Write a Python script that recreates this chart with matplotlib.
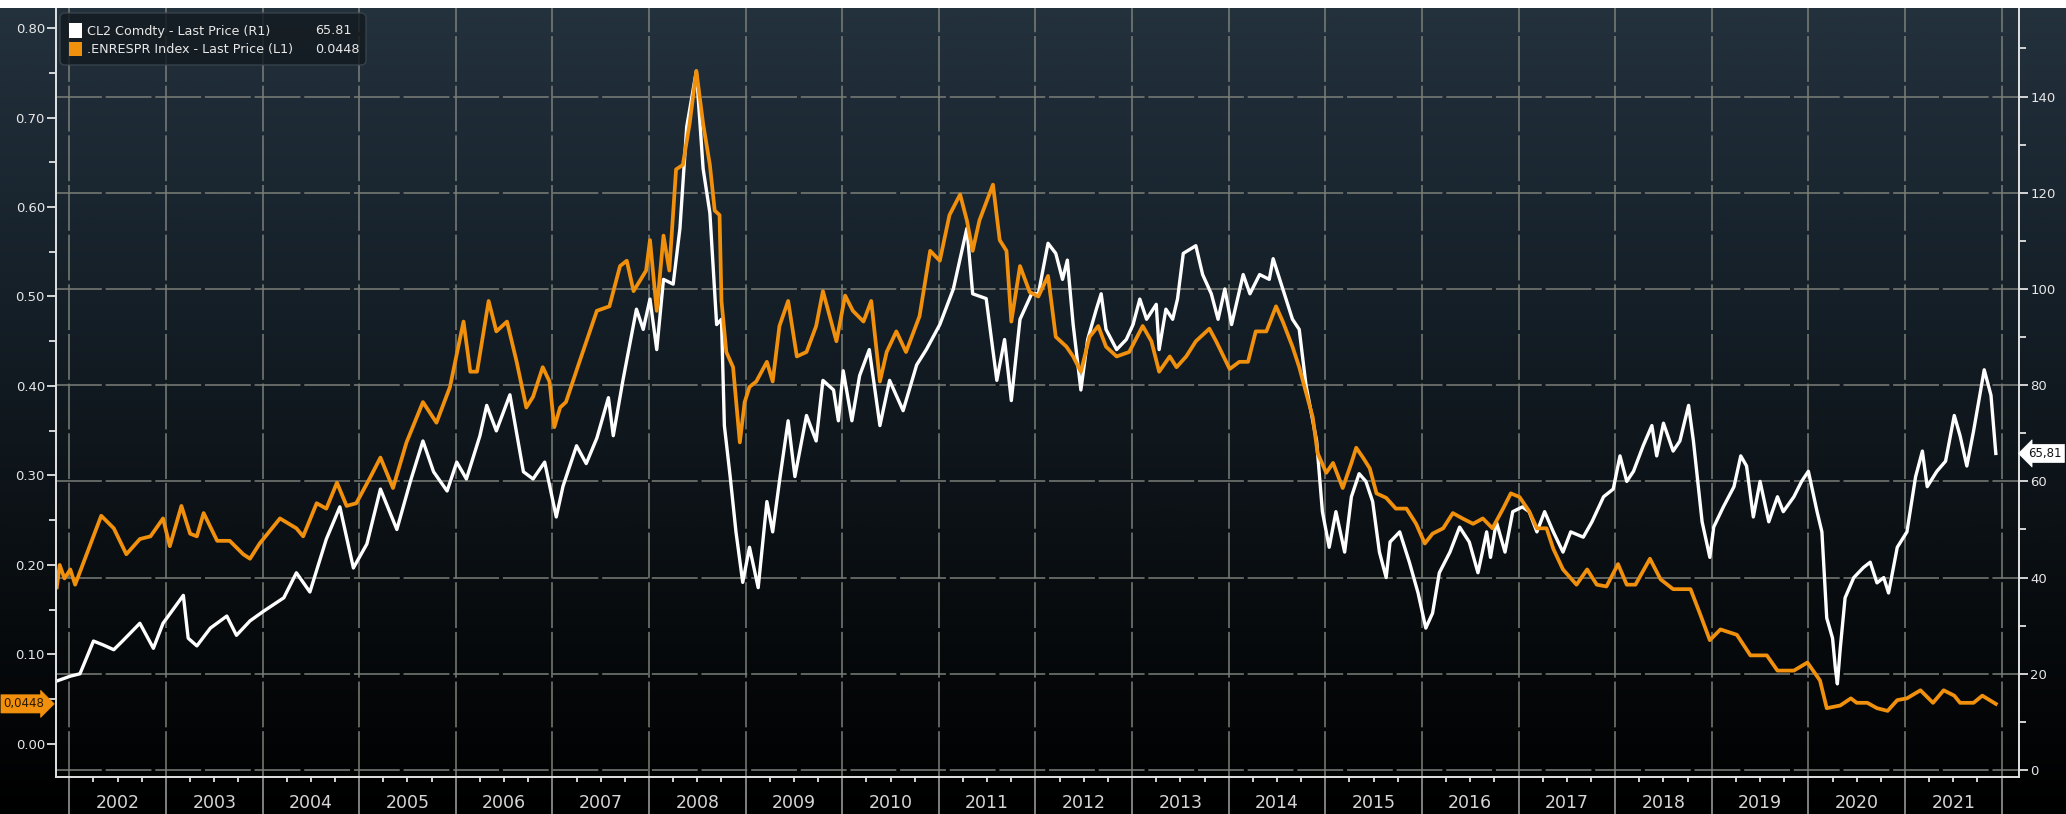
import numpy as np
import matplotlib
matplotlib.use("Agg")
import matplotlib.pyplot as plt
import matplotlib.transforms as mtransforms
from matplotlib.patches import Rectangle, FancyBboxPatch
from matplotlib.ticker import FixedLocator, FuncFormatter, NullFormatter
from matplotlib.colors import LinearSegmentedColormap
from matplotlib import font_manager as fm

# ---------------- data ----------------
cl2_t = [2001.87, 2002.01, 2002.11, 2002.25, 2002.35, 2002.46, 2002.56, 2002.73, 2002.87, 2002.97,
         2003.18, 2003.23, 2003.32, 2003.46, 2003.63, 2003.73, 2003.87, 2004.01, 2004.22, 2004.35,
         2004.49, 2004.66, 2004.80, 2004.94, 2005.08, 2005.22, 2005.39, 2005.53, 2005.66, 2005.77,
         2005.91, 2006.01, 2006.11, 2006.25, 2006.32, 2006.42, 2006.56, 2006.70, 2006.80, 2006.92,
         2007.04, 2007.11, 2007.25, 2007.35, 2007.46, 2007.58, 2007.63, 2007.73, 2007.87, 2007.94,
         2008.01, 2008.08, 2008.15, 2008.25, 2008.32, 2008.39, 2008.49, 2008.56, 2008.63, 2008.70,
         2008.75, 2008.78, 2008.84, 2008.90, 2008.97, 2009.04, 2009.13, 2009.22, 2009.28, 2009.35,
         2009.44, 2009.51, 2009.63, 2009.73, 2009.80, 2009.91, 2009.96, 2010.01, 2010.10, 2010.18,
         2010.28, 2010.39, 2010.49, 2010.63, 2010.77, 2010.87, 2011.01, 2011.15, 2011.29, 2011.35,
         2011.49, 2011.60, 2011.68, 2011.75, 2011.84, 2011.96, 2012.03, 2012.13, 2012.21, 2012.28,
         2012.33, 2012.39, 2012.47, 2012.54, 2012.63, 2012.68, 2012.73, 2012.84, 2012.94, 2013.01,
         2013.08, 2013.15, 2013.25, 2013.28, 2013.35, 2013.42, 2013.47, 2013.53, 2013.66, 2013.73,
         2013.82, 2013.89, 2013.96, 2014.03, 2014.15, 2014.22, 2014.32, 2014.42, 2014.46, 2014.56,
         2014.66, 2014.73, 2014.80, 2014.91, 2014.97, 2015.04, 2015.11, 2015.20, 2015.27, 2015.35,
         2015.42, 2015.49, 2015.56, 2015.63, 2015.67, 2015.77, 2015.87, 2015.96, 2016.04, 2016.11,
         2016.18, 2016.29, 2016.39, 2016.49, 2016.58, 2016.67, 2016.71, 2016.77, 2016.86, 2016.94,
         2017.04, 2017.11, 2017.19, 2017.27, 2017.36, 2017.46, 2017.54, 2017.67, 2017.76, 2017.88,
         2017.98, 2018.05, 2018.12, 2018.19, 2018.29, 2018.38, 2018.43, 2018.50, 2018.60, 2018.67,
         2018.76, 2018.81, 2018.90, 2018.98, 2019.02, 2019.12, 2019.23, 2019.30, 2019.36, 2019.43,
         2019.50, 2019.59, 2019.68, 2019.74, 2019.85, 2019.93, 2020.00, 2020.09, 2020.14, 2020.19,
         2020.25, 2020.28, 2020.30, 2020.33, 2020.38, 2020.47, 2020.57, 2020.64, 2020.71, 2020.78,
         2020.83, 2020.92, 2021.02, 2021.11, 2021.18, 2021.23, 2021.33, 2021.42, 2021.51, 2021.57,
         2021.64, 2021.71, 2021.82, 2021.89, 2021.94]
cl2_v = [18.5, 19.5, 20.0, 26.8, 26.0, 25.0, 27.0, 30.5, 25.3, 30.5,
         36.3, 27.4, 25.8, 29.5, 32.0, 28.0, 31.0, 33.0, 35.8, 41.0,
         37.0, 48.0, 54.7, 42.0, 47.0, 58.4, 50.0, 60.0, 68.4, 62.0,
         58.0, 64.0, 60.5, 69.5, 75.8, 70.5, 78.0, 62.0, 60.5, 64.0,
         52.6, 59.0, 67.4, 63.7, 69.0, 77.4, 69.5, 81.0, 95.8, 91.6,
         97.9, 87.4, 102.0, 101.0, 112.6, 133.7, 145.3, 125.0, 115.8, 92.6,
         93.7, 71.6, 61.0, 49.5, 39.0, 46.3, 37.9, 55.8, 49.5, 60.0,
         72.6, 61.0, 73.7, 68.4, 81.0, 79.0, 72.6, 83.0, 72.6, 82.0,
         87.4, 71.6, 81.0, 74.7, 84.2, 87.4, 92.6, 100.0, 112.6, 99.0,
         98.0, 81.0, 89.5, 76.8, 93.7, 99.0, 99.0, 109.5, 107.4, 102.0,
         106.0, 92.6, 79.0, 89.5, 95.8, 99.0, 91.6, 87.4, 89.5, 92.6,
         97.9, 93.7, 96.8, 87.4, 95.8, 93.7, 97.9, 107.4, 109.0, 103.0,
         99.0, 93.7, 100.0, 92.6, 103.0, 99.0, 103.0, 102.0, 106.3, 100.0,
         93.7, 91.6, 80.0, 68.4, 53.7, 46.3, 53.7, 45.3, 56.8, 61.6,
         60.0, 55.8, 45.3, 40.0, 47.4, 49.5, 43.2, 36.8, 29.5, 32.6,
         41.0, 45.3, 50.5, 47.4, 41.0, 49.5, 44.2, 51.6, 45.3, 53.7,
         54.7, 53.7, 49.5, 53.7, 49.5, 45.3, 49.5, 48.4, 51.6, 56.8,
         58.4, 65.3, 60.0, 62.1, 67.4, 71.6, 65.3, 72.1, 66.3, 68.4,
         75.8, 68.4, 51.6, 44.2, 50.5, 54.7, 58.9, 65.3, 63.2, 52.6,
         60.0, 51.6, 56.8, 53.7, 56.8, 60.0, 62.1, 53.7, 49.5, 31.6,
         27.4, 21.0, 17.9, 25.3, 35.8, 40.0, 42.1, 43.2, 38.9, 40.0,
         36.8, 46.3, 49.5, 61.0, 66.3, 58.9, 62.1, 64.2, 73.7, 69.5,
         63.2, 70.5, 83.2, 77.9, 65.81]

enr_t = [2001.87, 2001.90, 2001.95, 2002.01, 2002.06, 2002.20, 2002.33, 2002.46, 2002.59, 2002.73,
         2002.84, 2002.97, 2003.04, 2003.16, 2003.25, 2003.32, 2003.39, 2003.53, 2003.66, 2003.80,
         2003.87, 2003.97, 2004.18, 2004.35, 2004.42, 2004.56, 2004.66, 2004.77, 2004.87, 2004.97,
         2005.11, 2005.22, 2005.35, 2005.49, 2005.66, 2005.80, 2005.94, 2006.08, 2006.15, 2006.22,
         2006.34, 2006.42, 2006.53, 2006.63, 2006.73, 2006.80, 2006.90, 2006.97, 2007.02, 2007.08,
         2007.14, 2007.28, 2007.46, 2007.59, 2007.70, 2007.77, 2007.84, 2007.97, 2008.01, 2008.08,
         2008.15, 2008.21, 2008.28, 2008.35, 2008.42, 2008.49, 2008.56, 2008.63, 2008.68, 2008.73,
         2008.75, 2008.80, 2008.87, 2008.94, 2008.99, 2009.04, 2009.11, 2009.22, 2009.28, 2009.35,
         2009.44, 2009.53, 2009.63, 2009.73, 2009.80, 2009.87, 2009.94, 2010.03, 2010.11, 2010.22,
         2010.30, 2010.39, 2010.46, 2010.56, 2010.66, 2010.80, 2010.91, 2011.01, 2011.11, 2011.22,
         2011.29, 2011.35, 2011.42, 2011.56, 2011.63, 2011.70, 2011.75, 2011.84, 2011.94, 2012.03,
         2012.13, 2012.21, 2012.32, 2012.39, 2012.47, 2012.56, 2012.65, 2012.73, 2012.84, 2012.97,
         2013.11, 2013.20, 2013.28, 2013.39, 2013.46, 2013.56, 2013.66, 2013.80, 2013.87, 2014.01,
         2014.11, 2014.20, 2014.28, 2014.39, 2014.49, 2014.56, 2014.66, 2014.73, 2014.80, 2014.87,
         2014.92, 2015.01, 2015.08, 2015.18, 2015.27, 2015.32, 2015.39, 2015.46, 2015.53, 2015.63,
         2015.73, 2015.84, 2015.94, 2016.03, 2016.11, 2016.22, 2016.32, 2016.42, 2016.53, 2016.63,
         2016.73, 2016.84, 2016.92, 2017.01, 2017.11, 2017.19, 2017.29, 2017.36, 2017.46, 2017.60,
         2017.71, 2017.81, 2017.91, 2018.03, 2018.12, 2018.21, 2018.36, 2018.47, 2018.60, 2018.78,
         2018.88, 2018.98, 2019.09, 2019.26, 2019.40, 2019.57, 2019.68, 2019.85, 2019.99, 2020.12,
         2020.19, 2020.33, 2020.44, 2020.50, 2020.61, 2020.71, 2020.82, 2020.92, 2021.02, 2021.16,
         2021.29, 2021.40, 2021.51, 2021.57, 2021.71, 2021.80, 2021.94]
enr_v = [0.175, 0.200, 0.185, 0.195, 0.178, 0.218, 0.255, 0.241, 0.212, 0.229,
         0.232, 0.252, 0.221, 0.266, 0.235, 0.232, 0.258, 0.227, 0.227, 0.212,
         0.207, 0.224, 0.252, 0.241, 0.232, 0.269, 0.263, 0.292, 0.266, 0.269,
         0.297, 0.320, 0.286, 0.337, 0.382, 0.359, 0.399, 0.472, 0.416, 0.416,
         0.495, 0.461, 0.472, 0.427, 0.376, 0.388, 0.421, 0.405, 0.354, 0.376,
         0.382, 0.427, 0.484, 0.489, 0.534, 0.540, 0.506, 0.529, 0.563, 0.484,
         0.568, 0.529, 0.642, 0.647, 0.693, 0.752, 0.693, 0.647, 0.596, 0.591,
         0.495, 0.438, 0.421, 0.337, 0.382, 0.399, 0.405, 0.427, 0.405, 0.467,
         0.495, 0.433, 0.438, 0.467, 0.506, 0.478, 0.450, 0.501, 0.484, 0.472,
         0.495, 0.405, 0.438, 0.461, 0.438, 0.478, 0.551, 0.540, 0.591, 0.614,
         0.585, 0.551, 0.585, 0.625, 0.563, 0.551, 0.472, 0.534, 0.505, 0.500,
         0.523, 0.455, 0.444, 0.433, 0.416, 0.455, 0.467, 0.444, 0.433, 0.438,
         0.467, 0.450, 0.416, 0.433, 0.421, 0.433, 0.450, 0.464, 0.450, 0.419,
         0.427, 0.427, 0.461, 0.461, 0.489, 0.472, 0.444, 0.421, 0.393, 0.365,
         0.325, 0.303, 0.314, 0.286, 0.314, 0.331, 0.320, 0.308, 0.280, 0.275,
         0.263, 0.263, 0.246, 0.224, 0.235, 0.241, 0.258, 0.252, 0.246, 0.252,
         0.241, 0.263, 0.280, 0.276, 0.260, 0.241, 0.241, 0.218, 0.195, 0.178,
         0.195, 0.178, 0.176, 0.201, 0.178, 0.178, 0.207, 0.184, 0.173, 0.173,
         0.145, 0.116, 0.128, 0.122, 0.099, 0.099, 0.082, 0.082, 0.091, 0.071,
         0.040, 0.043, 0.051, 0.046, 0.046, 0.040, 0.037, 0.049, 0.051, 0.060,
         0.046, 0.060, 0.054, 0.046, 0.046, 0.054, 0.0448]

year_labels = [str(y) for y in range(2002, 2022)]
year_bounds = list(range(2002, 2023))
left_ticks = [0.0, 0.1, 0.2, 0.3, 0.4, 0.5, 0.6, 0.7, 0.8]
left_minor = [0.05, 0.15, 0.25, 0.35, 0.45, 0.55, 0.65, 0.75]
right_ticks = [0, 20, 40, 60, 80, 100, 120, 140]
right_minor = [10, 30, 50, 70, 90, 110, 130, 150]
legend_labels = ["CL2 Comdty - Last Price (R1)", ".ENRESPR Index - Last Price (L1)"]
legend_values = ["65.81", "0.0448"]
last_cl2_tag = "65,81"
last_enr_tag = "0,0448"

# ---------------- styling ----------------
W, H = 2066, 814
ORANGE = "#f0900c"
GRID = "#7b7f78"
AXC = "#e2e2e2"

names = {f.name for f in fm.fontManager.ttflist}
NARROW = "Liberation Sans Narrow" if "Liberation Sans Narrow" in names else "DejaVu Sans"

fig = plt.figure(figsize=(W / 100, H / 100), dpi=100)
fig.patch.set_facecolor("black")
px = mtransforms.Affine2D().scale(1, -1).translate(0, H)  # pixel coords, origin top-left

# background gradient
bg = fig.add_axes([0, 0, 1, 1])
bg.set_zorder(-5)
cmap = LinearSegmentedColormap.from_list("bg", ["#24323e", "#16212a", "#0b1014", "#000000"])
bg.imshow(np.linspace(0, 1, 512).reshape(-1, 1), aspect="auto", cmap=cmap,
          extent=[0, 1, 0, 1])
bg.set_xlim(0, 1)
bg.set_ylim(0, 1)
bg.axis("off")

L, R, T, B = 56, 2019, 7.6, 777
ax = fig.add_axes([L / W, 1 - B / H, (R - L) / W, (B - T) / H])
ax2 = ax.twinx()
ax.set_zorder(2)
ax2.set_zorder(1)
ax.patch.set_visible(False)
ax2.patch.set_visible(False)

# scales
ax.set_xlim(2001.862, 2022.18)
ax.set_ylim(-0.0369, 0.8228)
ax2.set_ylim(-1.46, 158.5)

# x axis
ax.xaxis.set_major_locator(FixedLocator(year_bounds))
ax.xaxis.set_minor_locator(FixedLocator([y + q for y in range(2001, 2023) for q in (0.25, 0.5, 0.75)]))
ax.xaxis.set_major_formatter(NullFormatter())
ax.tick_params(axis="x", which="major", direction="out", length=28, width=1.3, color="#8a8a8a")
ax.tick_params(axis="x", which="minor", direction="out", length=3.8, width=1.3, color=AXC)

# left axis
ax.yaxis.set_major_locator(FixedLocator(left_ticks))
ax.yaxis.set_minor_locator(FixedLocator(left_minor))
ax.yaxis.set_major_formatter(FuncFormatter(lambda v, p: f"{v:.2f}"))
ax.tick_params(axis="y", which="major", direction="out", length=6.5, width=1.3, color=AXC,
               labelsize=9.5, labelcolor="#e6e6e6", pad=1.5)
ax.tick_params(axis="y", which="minor", direction="out", length=5, width=1.3, color=AXC)

# right axis
ax2.yaxis.set_major_locator(FixedLocator(right_ticks))
ax2.yaxis.set_minor_locator(FixedLocator(right_minor))
ax2.yaxis.set_major_formatter(FuncFormatter(lambda v, p: f"{int(round(v))}"))
ax2.tick_params(axis="y", which="major", direction="out", length=6.5, width=1.3, color=AXC,
                labelsize=9.5, labelcolor="#e6e6e6", pad=1.5)
ax2.tick_params(axis="y", which="minor", direction="out", length=5, width=1.3, color=AXC)

# grid (drawn by the lower axes)
ax2.xaxis.set_visible(True)
ax2.tick_params(axis="x", which="both", bottom=False, top=False, labelbottom=False, labeltop=False)
gkw = dict(color=GRID, lw=1.1, ls=(0, (30, 2.5)))
ax2.grid(True, axis="y", which="major", **gkw)
ax2.grid(True, axis="x", which="major", **gkw)
ax.grid(False)

# spines
for s in ("top", "right"):
    ax.spines[s].set_visible(False)
for s in ("top", "left", "bottom"):
    ax2.spines[s].set_visible(False)
for sp in (ax.spines["left"], ax.spines["bottom"], ax2.spines["right"]):
    sp.set_color(AXC)
    sp.set_linewidth(1.4)

# series
ax2.plot(cl2_t, cl2_v, color="white", lw=2.4, solid_joinstyle="round")
ax.plot(enr_t, enr_v, color=ORANGE, lw=2.7, solid_joinstyle="round")

# year labels
xlab = mtransforms.blended_transform_factory(ax.transData, ax.transAxes)
for y, lab in zip(range(2002, 2022), year_labels):
    ax.text(y + 0.5, -0.0338, lab, transform=xlab, ha="center", va="center",
            fontsize=12.5, color="#d6d6d6", family=NARROW, clip_on=False)

# last-value tags
tl = mtransforms.blended_transform_factory(fig.transFigure, ax.transData)
ax.text(24 / W, enr_v[-1], last_enr_tag, transform=tl, ha="center", va="center",
        fontsize=8.5, color="#2a1800", clip_on=False,
        bbox=dict(boxstyle="rarrow,pad=0.22", fc=ORANGE, ec=ORANGE, lw=0.5))
tr = mtransforms.blended_transform_factory(fig.transFigure, ax2.transData)
ax2.text(2045 / W, cl2_v[-1], last_cl2_tag, transform=tr, ha="center", va="center",
         fontsize=8.5, color="#111111", clip_on=False,
         bbox=dict(boxstyle="larrow,pad=0.22", fc="white", ec="white", lw=0.5))

# legend (manual, Bloomberg style)
fig.add_artist(FancyBboxPatch((60, 13), 306, 52, boxstyle="round,pad=0,rounding_size=5",
                              transform=px, fc="#141b21", ec="#3b464f", lw=1.0, alpha=0.85,
                              zorder=10))
fig.add_artist(Rectangle((69, 23), 13, 15, transform=px, fc="white", ec="none", zorder=11))
fig.add_artist(Rectangle((69, 42), 13, 14, transform=px, fc=ORANGE, ec="none", zorder=11))
lfs = 10.5 if NARROW != "DejaVu Sans" else 9.2
for i, (lab, val) in enumerate(zip(legend_labels, legend_values)):
    yy = 31 + i * 18.5
    fig.text(87, yy, lab, transform=px, ha="left", va="center", fontsize=lfs,
             color="#e8e8e8", family=NARROW, zorder=12)
    fig.text(315, yy, val, transform=px, ha="left", va="center", fontsize=lfs,
             color="#e8e8e8", family=NARROW, zorder=12)

# white strip at the very top
fig.add_artist(Rectangle((0, 0), W, 7.6, transform=px, fc="white", ec="none", zorder=20))

fig.savefig("out.png", dpi=100, facecolor=fig.get_facecolor())
